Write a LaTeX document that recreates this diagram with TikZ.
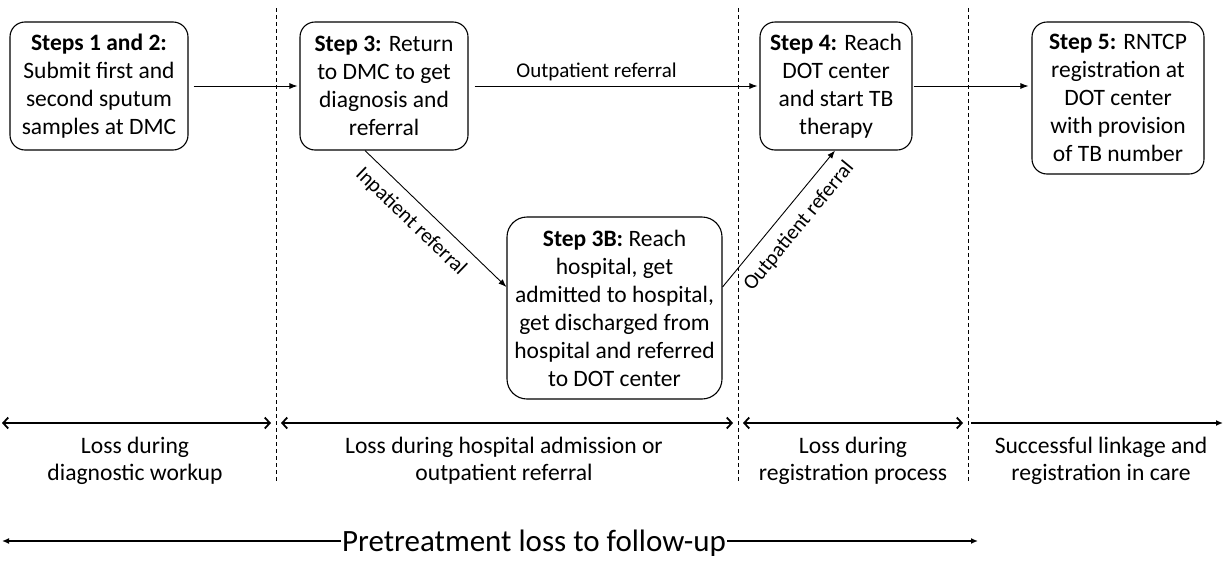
\documentclass[tikz,border=0pt]{standalone}
\usepackage{fontspec}
\setmainfont{Carlito}
\usetikzlibrary{arrows.meta}
\begin{document}
\begin{tikzpicture}[x=1pt,y=-1pt,
  box/.style={draw, line width=1.1pt, rounded corners=15pt, align=center, inner sep=0pt,
    font=\fontsize{23.5}{28}\selectfont},
  arr/.style={line width=0.9pt, -{Latex[length=8pt,width=6pt]}},
  lab/.style={font=\fontsize{21}{24}\selectfont, inner sep=2pt},
  sep/.style={line width=0.9pt, dash pattern=on 4pt off 3pt},
  dbl/.style={line width=1.8pt, {Straight Barb[length=5pt,width=11pt]}-{Straight Barb[length=5pt,width=11pt]}},
  phase/.style={align=center, font=\fontsize{23.6}{27}\selectfont},
]
\useasboundingbox (0,0) rectangle (1224,560);

% boxes
\node[box, minimum width=178pt, minimum height=128pt] (b1) at (99,86)
  {\textbf{Steps 1 and 2:}\\Submit first and\\second sputum\\samples at DMC};
\node[box, minimum width=168pt, minimum height=128pt] (b2) at (384,86)
  {\textbf{Step 3:} Return\\to DMC to get\\diagnosis and\\referral};
\node[box, minimum width=152pt, minimum height=128pt] (b4) at (836,86)
  {\textbf{Step 4:} Reach\\DOT center\\and start TB\\therapy};
\node[box, minimum width=172pt, minimum height=152pt] (b5) at (1118,98)
  {\textbf{Step 5:} RNTCP\\registration at\\DOT center\\with provision\\of TB number};
\node[box, rounded corners=20pt, minimum width=215pt, minimum height=182pt] (b3) at (614.5,308)
  {\textbf{Step 3B:} Reach\\hospital, get\\admitted to hospital,\\get discharged from\\hospital and referred\\to DOT center};

% connectors
\draw[arr, shorten <=5pt, shorten >=2pt] (b1.east) -- (b2.west);
\draw[arr, shorten <=6pt, shorten >=2pt] (b2.east) -- node[lab, above=3pt, pos=0.44] {Outpatient referral} (b4.west);
\draw[arr, shorten <=1pt, shorten >=3pt] (b4.east) -- (b5.west |- b4.east);
\draw[arr] ([xshift=-19pt]b2.south) -- node[lab, sloped, below=8pt, pos=0.42] {Inpatient referral} ([yshift=21pt]b3.west);
\draw[arr] ([yshift=21pt]b3.east) -- node[lab, sloped, below=9pt, pos=0.54] {Outpatient referral} ([xshift=-1pt]b4.south);

% separators
\coordinate (s1t) at (276,8);   \coordinate (s1b) at (276,482);
\coordinate (s2t) at (738,8);   \coordinate (s2b) at (738,482);
\coordinate (s3t) at (968,8);   \coordinate (s3b) at (968,482);
\draw[sep] (s1t) -- (s1b);
\draw[sep] (s2t) -- (s2b);
\draw[sep] (s3t) -- (s3b);

% phase arrows
\coordinate (p0) at (2,423);
\coordinate (p1) at (271,423);
\coordinate (p2) at (281,423);
\coordinate (p3) at (733,423);
\coordinate (p4) at (743,423);
\coordinate (p5) at (963,423);
\coordinate (p6) at (971,423);
\coordinate (p7) at (1223,423);
\draw[dbl] (p0) -- (p1);
\draw[dbl] (p2) -- (p3);
\draw[dbl] (p4) -- (p5);
\draw[line width=1.8pt, -{Latex[length=7pt,width=6pt]}] (p6) -- (p7);

\node[phase] (t1) at (135,461) {Loss during\\diagnostic workup};
\node[phase] (t2) at (504,461) {Loss during hospital admission or\\outpatient referral};
\node[phase] (t3) at (853,461) {Loss during\\registration process};
\node[phase] (t4) at (1101,461) {Successful linkage and\\registration in care};

% pretreatment
\coordinate (q0) at (2,541);
\coordinate (q1) at (978,541);
\node[font=\fontsize{31}{34}\selectfont, inner sep=1pt, anchor=base] (pt) at (534,551) {Pretreatment loss to follow-up};
\draw[line width=1.5pt, {Latex[length=7pt,width=6pt]}-] (q0) -- (pt.west |- q0);
\draw[line width=1.5pt, -{Latex[length=7pt,width=6pt]}] (pt.east |- q1) -- (q1);
\end{tikzpicture}
\end{document}
